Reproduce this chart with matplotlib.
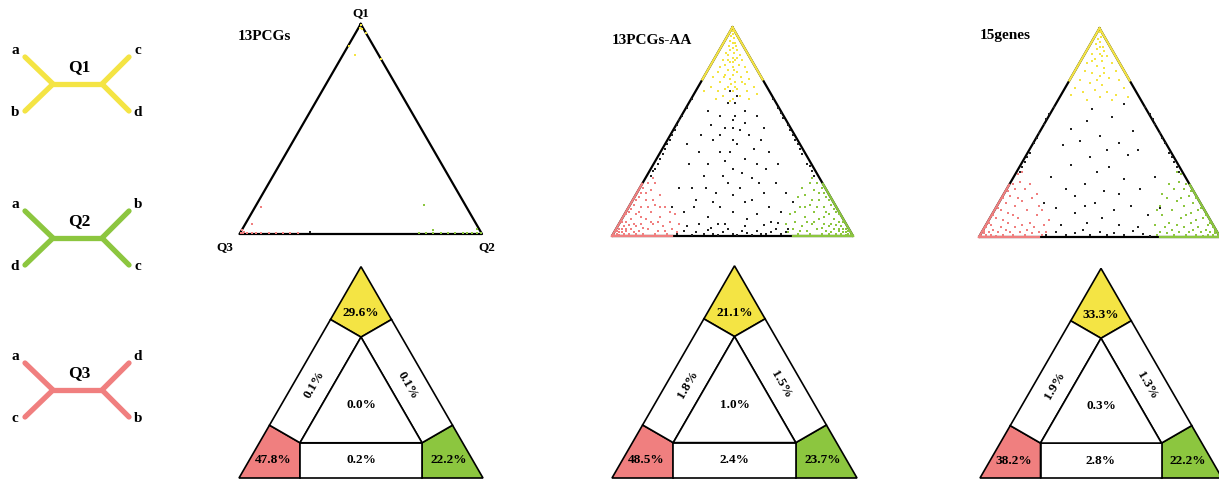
import numpy as np
import matplotlib.pyplot as plt
from matplotlib.patches import Polygon

W, H = 1219, 480
TH = np.sqrt(3) / 2 * 100   # triangle height, side = 100

plt.rcParams['font.family'] = ['Liberation Serif', 'DejaVu Serif']
plt.rcParams['font.weight'] = 'bold'

YEL = '#f4e444'
GRN = '#8cc63f'
RED = '#f07f7f'

# ---- data -------------------------------------------------------------------
titles = ['13PCGs', '13PCGs-AA', '15genes']
# region percentages: corners Q1, Q2, Q3
corner_pct = [[29.6, 22.2, 47.8], [21.1, 23.7, 48.5], [33.3, 22.2, 38.2]]
# sides: Q1/Q3 (left), Q1/Q2 (right), Q2/Q3 (bottom)
side_pct = [[0.1, 0.1, 0.2], [1.8, 1.5, 2.4], [1.9, 1.3, 2.8]]
center_pct = [0.0, 1.0, 0.3]

# quartet trees: name, tips (left-top, left-bottom, right-top, right-bottom)
tree_names = ['Q1', 'Q2', 'Q3']
tree_tips = [['a', 'b', 'c', 'd'], ['a', 'd', 'b', 'c'], ['a', 'c', 'd', 'b']]

# likelihood-map points (x, y) inside triangle Q3=(0,0), Q2=(100,0), Q1=(50,86.6)
pcg_q1 = [(50, 86), (49.5, 85), (50.5, 84.5), (47.7, 74), (58.4, 72), (45, 77.5), (52, 83)]
pcg_q3 = [(0.5, 0.3), (1.5, 0.5), (3, 0.4), (5, 0.6), (7, 0.3), (9, 0.5), (12, 0.4), (15, 0.6),
          (18, 0.3), (21, 0.5), (24, 0.4), (5, 4), (9, 11), (2, 1), (1, 1.5)]
pcg_q2 = [(99.5, 0.3), (98, 0.5), (96, 0.4), (94, 0.6), (92, 0.3), (89, 0.5), (86, 0.4), (83, 0.6),
          (80, 0.3), (77, 0.5), (74, 0.4), (76, 12), (80, 1.7), (98, 2)]
pcg_mid = [(29, 0.8)]

aa_q1 = [(50, 85), (50, 84), (49.5, 83), (50.5, 82), (49, 81), (51, 80), (50, 80), (48.5, 79), (51.5, 79),
         (50, 78), (49, 77), (52, 77), (47.5, 76), (50.5, 76), (53, 75), (48, 75), (50, 74), (46, 73),
         (51, 73), (54, 73), (49, 72), (52.5, 71), (47, 71), (45, 70), (50, 70), (55, 70), (48, 69),
         (52, 68), (44, 68), (56, 68), (50, 67), (46.5, 66), (53.5, 66), (42, 66), (57, 65), (49, 65),
         (51, 64), (45, 64), (55, 63), (48, 62), (41, 62), (59, 62), (52, 61), (47, 61), (44, 60),
         (50, 60), (56, 60), (38, 60), (60, 59), (53, 58), (46, 58), (50, 57), (43, 57), (57, 57),
         (49, 56), (51, 62), (54, 64), (47, 67), (50, 72), (52, 74), (48, 73), (50.5, 69), (49.5, 63)]
aa_mid = [(27, 1), (30, 2), (33, 0.5), (35, 1.5), (38, 0.8), (40, 2.5), (42, 1), (44, 0.5), (46, 1.8),
          (48, 3), (50, 1), (52, 0.6), (54, 2), (56, 1.2), (58, 0.4), (60, 2.2), (62, 1), (64, 0.7),
          (66, 1.5), (68, 3), (70, 0.8), (72, 1.8), (31, 4), (36, 5), (41, 3.5), (47, 5), (55, 4),
          (63, 4.5), (69, 5.5), (73, 3),
          (16, 25), (18, 28), (20, 32), (22, 36), (24, 40), (26, 44), (28, 48), (29, 50), (31, 53),
          (33, 57), (19, 30), (23, 38), (27, 46), (17, 27), (21, 34), (25, 42),
          (83, 27), (81, 30), (79, 34), (77, 38), (75, 42), (73, 46), (71, 49), (69, 53), (67, 57),
          (82, 29), (78, 36), (74, 44), (70, 51), (84, 25), (76, 40),
          (30, 10), (35, 15), (40, 8), (45, 12), (50, 10), (55, 14), (60, 9), (65, 12), (70, 10),
          (33, 20), (38, 25), (43, 18), (48, 22), (53, 20), (58, 24), (63, 18), (68, 22), (40, 30),
          (45, 35), (50, 28), (55, 32), (60, 30), (65, 35), (42, 40), (47, 45), (52, 38), (57, 42),
          (62, 40), (45, 50), (50, 48), (55, 52), (48, 55), (52, 58), (40, 52), (60, 50), (36, 35),
          (64, 28), (32, 30), (28, 20), (72, 18), (75, 14), (25, 12), (50, 40), (50, 45), (51, 50),
          (49, 35), (46, 25), (54, 26), (58, 15), (42, 14), (37, 42), (63, 45), (44, 5), (56, 7),
          (34, 12), (66, 6), (50, 17), (47, 31), (53, 44), (59, 36), (41, 46), (31, 38), (69, 30),
          (39, 20), (61, 22), (45, 42), (55, 47), (51, 55), (49, 60)]
aa_q3 = [(1, 0.5), (2, 1), (3, 0.5), (2, 2), (4, 1.5), (5, 0.8), (3, 3), (6, 2), (7, 1), (5, 4), (8, 3),
         (9, 1.5), (6, 6), (10, 4), (11, 2), (8, 7), (12, 5), (13, 1), (10, 9), (14, 7), (15, 3),
         (12, 12), (16, 10), (17, 5), (14, 15), (18, 13), (19, 2), (16, 19), (20, 8), (21, 4), (18, 22),
         (22, 12), (23, 1), (24, 6), (20, 17), (25, 3), (26, 9), (27, 1.5), (28, 5), (15, 22), (13, 20),
         (11, 16), (9, 13), (7, 10), (4, 6), (6, 3), (9, 5), (12, 8), (15, 12), (19, 6), (22, 2),
         (17, 15), (20, 12), (24, 10), (3, 1.5), (1.5, 2), (4, 3), (7, 4.5), (10, 1), (13, 3.5),
         (16, 6), (18, 1), (8, 11), (11, 10), (14, 18), (17, 24), (12, 18), (10, 15), (6, 9)]
aa_q2 = [(99, 0.5), (98, 1), (97, 0.5), (98, 2), (96, 1.5), (95, 0.8), (97, 3), (94, 2), (93, 1),
         (95, 4), (92, 3), (91, 1.5), (94, 6), (90, 4), (89, 2), (92, 7), (88, 5), (87, 1), (90, 9),
         (86, 7), (85, 3), (88, 12), (84, 10), (83, 5), (86, 15), (82, 13), (81, 2), (84, 19), (80, 8),
         (79, 4), (82, 22), (78, 12), (77, 1), (76, 6), (80, 17), (75, 3), (74, 9), (73, 1.5), (72, 5),
         (85, 22), (87, 20), (89, 16), (91, 13), (93, 10), (96, 6), (94, 3), (91, 5), (88, 8), (85, 12),
         (81, 6), (78, 2), (83, 15), (80, 12), (76, 10), (97, 1.5), (98.5, 2), (96, 3), (93, 4.5),
         (90, 1), (87, 3.5), (84, 6), (82, 1), (92, 11), (89, 10), (86, 18), (83, 24), (88, 18),
         (90, 15), (94, 9), (79, 20), (77, 16)]

gen_q1 = [(50, 85), (50.5, 83), (49.5, 82), (50, 81), (48.5, 80), (51.5, 79), (49, 78), (52, 77),
          (47, 76), (50, 76), (53, 75), (48, 74), (51, 73), (45, 72), (55, 72), (49, 71), (52, 70),
          (44, 69), (57, 69), (47, 68), (50, 67), (54, 66), (42, 65), (58, 65), (46, 64), (51, 63),
          (40, 62), (60, 62), (48, 61), (53, 60), (43, 60), (57, 59), (38, 59), (62, 58), (50, 58),
          (45, 57), (55, 57), (49, 65), (52, 68), (47, 73), (50, 79), (51, 75)]
gen_mid = [(28, 1), (32, 2), (36, 0.8), (40, 1.5), (43, 3), (46, 1), (50, 2), (53, 0.7), (56, 1.8),
           (60, 1), (64, 2.5), (68, 1.2), (71, 0.6), (34, 5), (45, 6), (58, 5), (66, 4),
           (17, 27), (19, 31), (21, 35), (23, 39), (25, 43), (27, 47), (29, 51), (31, 54), (20, 33),
           (24, 41), (28, 49), (18, 29),
           (83, 27), (81, 31), (79, 35), (77, 39), (75, 43), (73, 47), (71, 51), (69, 54), (80, 33),
           (76, 41), (72, 49), (82, 29),
           (32, 12), (40, 10), (48, 14), (56, 11), (63, 13), (70, 9), (36, 20), (44, 22), (52, 19),
           (60, 24), (67, 20), (38, 30), (46, 33), (54, 29), (62, 34), (42, 40), (50, 42), (58, 39),
           (64, 44), (45, 48), (55, 50), (35, 38), (30, 25), (73, 25), (40, 17), (58, 18), (49, 27),
           (27, 14), (75, 12), (53, 36), (47, 53), (60, 55), (38, 45), (66, 36), (51, 8), (44, 13)]
gen_q3 = [(1, 0.5), (2, 1.5), (3, 0.7), (4, 2), (5, 1), (6, 3), (7, 0.6), (8, 2), (9, 4), (10, 1),
          (11, 3), (12, 6), (13, 2), (14, 0.8), (15, 4), (16, 8), (17, 2), (18, 5), (19, 1), (20, 3),
          (21, 6), (22, 1.5), (23, 4), (24, 9), (25, 2), (26, 0.8), (27, 5), (28, 2), (29, 7), (5, 5),
          (7, 8), (9, 11), (11, 14), (13, 17), (15, 20), (17, 23), (18, 27), (16, 26), (14, 22),
          (12, 19), (10, 16), (8, 12), (6, 9), (4, 6), (3, 4), (2, 2.5), (12, 10), (15, 13), (18, 15),
          (20, 11), (22, 16), (25, 13), (19, 20), (21, 22), (24, 18), (10, 7), (14, 9), (26, 11),
          (16, 16)]
gen_q2 = [(99, 0.5), (98, 1.5), (97, 0.7), (96, 2), (95, 1), (94, 3), (93, 0.6), (92, 2), (91, 4),
          (90, 1), (89, 3), (88, 6), (87, 2), (86, 0.8), (85, 4), (84, 8), (83, 2), (82, 5), (81, 1),
          (80, 3), (79, 6), (78, 1.5), (77, 4), (76, 9), (75, 2), (74, 0.8), (73, 5), (95, 5), (93, 8),
          (91, 11), (89, 14), (87, 17), (85, 20), (83, 23), (82, 27), (84, 26), (86, 22), (88, 19),
          (90, 16), (92, 12), (94, 9), (96, 6), (97, 4), (98, 2.5), (88, 10), (85, 13), (82, 15),
          (80, 11), (78, 16), (75, 13), (81, 20), (79, 22), (76, 18), (90, 7), (86, 9), (74, 11),
          (84, 16)]

maps = [(pcg_q1, pcg_q2, pcg_q3, pcg_mid),
        (aa_q1, aa_q2, aa_q3, aa_mid),
        (gen_q1, gen_q2, gen_q3, gen_mid)]
edge_tint = [0.0, 0.25, 0.25]

# ---- layout (pixels): left x of triangle, base y, side length ---------------
top_pos = [(239.5, 234, 242.5), (612, 236, 241), (979, 237, 241)]
bot_pos = [(239, 478, 244), (612, 478, 245), (980, 478, 242)]
PAD = 6


def tri_axes(x0, ybase, w):
    k = w / 100
    rect = [(x0 - PAD * k) / W, (H - ybase - PAD * k) / H,
            (100 + 2 * PAD) * k / W, (TH + 2 * PAD) * k / H]
    ax = fig.add_axes(rect)
    ax.set_xlim(-PAD, 100 + PAD)
    ax.set_ylim(-PAD, TH + PAD)
    ax.axis('off')
    return ax


fig = plt.figure(figsize=(W / 100, H / 100), dpi=100)

# quartet trees on the left
ax0 = fig.add_axes([0, 0, 1, 1])
ax0.set_xlim(0, W)
ax0.set_ylim(H, 0)
ax0.axis('off')
for name, tips, col, cy in zip(tree_names, tree_tips, [YEL, GRN, RED], [84, 238, 390]):
    kw = dict(color=col, lw=3.8, solid_capstyle='round')
    ax0.plot([25, 53, 25], [cy - 27, cy, cy + 27], **kw)
    ax0.plot([129, 102, 129], [cy - 27, cy, cy + 27], **kw)
    ax0.plot([53, 102], [cy, cy], **kw)
    ax0.text(79, cy - 17, name, ha='center', va='center', fontsize=12.5)
    ax0.text(15, cy - 33, tips[0], ha='center', va='center', fontsize=11)
    ax0.text(15, cy + 28, tips[1], ha='center', va='center', fontsize=11)
    ax0.text(138, cy - 33, tips[2], ha='center', va='center', fontsize=11)
    ax0.text(138, cy + 28, tips[3], ha='center', va='center', fontsize=11)

corners = np.array([[50, TH], [100, 0], [0, 0]])   # Q1, Q2, Q3

# likelihood mapping triangles (top row)
for i, (pts, pos) in enumerate(zip(maps, top_pos)):
    ax = tri_axes(*pos)
    tri = np.vstack([corners, corners[:1]])
    ax.plot(tri[:, 0], tri[:, 1], color='black', lw=1.6, zorder=2, clip_on=False)
    f = edge_tint[i]
    if f > 0:
        for j, col in enumerate([YEL, GRN, RED]):
            for k in range(3):
                if k == j:
                    continue
                p, q = corners[j], corners[k]
                ax.plot([p[0], p[0] + f * (q[0] - p[0])], [p[1], p[1] + f * (q[1] - p[1])],
                        color=col, lw=1.6, zorder=3, clip_on=False)
    for data, col in zip(pts, [YEL, GRN, RED, '#222222']):
        xy = np.array(data)
        ax.scatter(xy[:, 0], xy[:, 1], s=3, c=col, marker='s', linewidths=0, zorder=4,
                   clip_on=False)
    if i == 0:
        ax.text(50, TH + 4.5, 'Q1', ha='center', va='center', fontsize=9.5)
        ax.text(102, -5.5, 'Q2', ha='center', va='center', fontsize=9.5)
        ax.text(-6, -5.5, 'Q3', ha='center', va='center', fontsize=9.5)

title_px = [(238, 37), (612, 40), (980, 35)]
for t, (tx, ty) in zip(titles, title_px):
    fig.text(tx / W, 1 - ty / H, t, ha='left', va='center', fontsize=11)

# region summary triangles (bottom row)
h = TH
regions = {
    'c1': [(50, h), (37.5, 0.75 * h), (50, 2 * h / 3), (62.5, 0.75 * h)],
    'c2': [(100, 0), (75, 0), (75, h / 6), (87.5, 0.25 * h)],
    'c3': [(0, 0), (12.5, 0.25 * h), (25, h / 6), (25, 0)],
    'left': [(12.5, 0.25 * h), (37.5, 0.75 * h), (50, 2 * h / 3), (25, h / 6)],
    'right': [(62.5, 0.75 * h), (87.5, 0.25 * h), (75, h / 6), (50, 2 * h / 3)],
    'bottom': [(25, 0), (75, 0), (75, h / 6), (25, h / 6)],
    'center': [(25, h / 6), (75, h / 6), (50, 2 * h / 3)],
}
fills = {'c1': YEL, 'c2': GRN, 'c3': RED}

for i, pos in enumerate(bot_pos):
    ax = tri_axes(*pos)
    for key, poly in regions.items():
        ax.add_patch(Polygon(poly, closed=True, facecolor=fills.get(key, 'white'),
                             edgecolor='black', lw=1.2, clip_on=False))
    c1, c2, c3 = corner_pct[i]
    sl, sr, sb = side_pct[i]
    fs = 9.5
    ax.text(50, 0.78 * h, f'{c1:.1f}%', ha='center', va='center', fontsize=fs)
    ax.text(86, h / 12, f'{c2:.1f}%', ha='center', va='center', fontsize=fs)
    ax.text(14, h / 12, f'{c3:.1f}%', ha='center', va='center', fontsize=fs)
    ax.text(50, h / 12, f'{sb:.1f}%', ha='center', va='center', fontsize=fs)
    ax.text(50, h / 3 + 1, f'{center_pct[i]:.1f}%', ha='center', va='center', fontsize=fs)
    ax.text(31, 0.44 * h, f'{sl:.1f}%', ha='center', va='center', fontsize=fs,
            rotation=60, rotation_mode='anchor')
    ax.text(69, 0.44 * h, f'{sr:.1f}%', ha='center', va='center', fontsize=fs,
            rotation=-60, rotation_mode='anchor')

fig.savefig('out.png', dpi=100)
